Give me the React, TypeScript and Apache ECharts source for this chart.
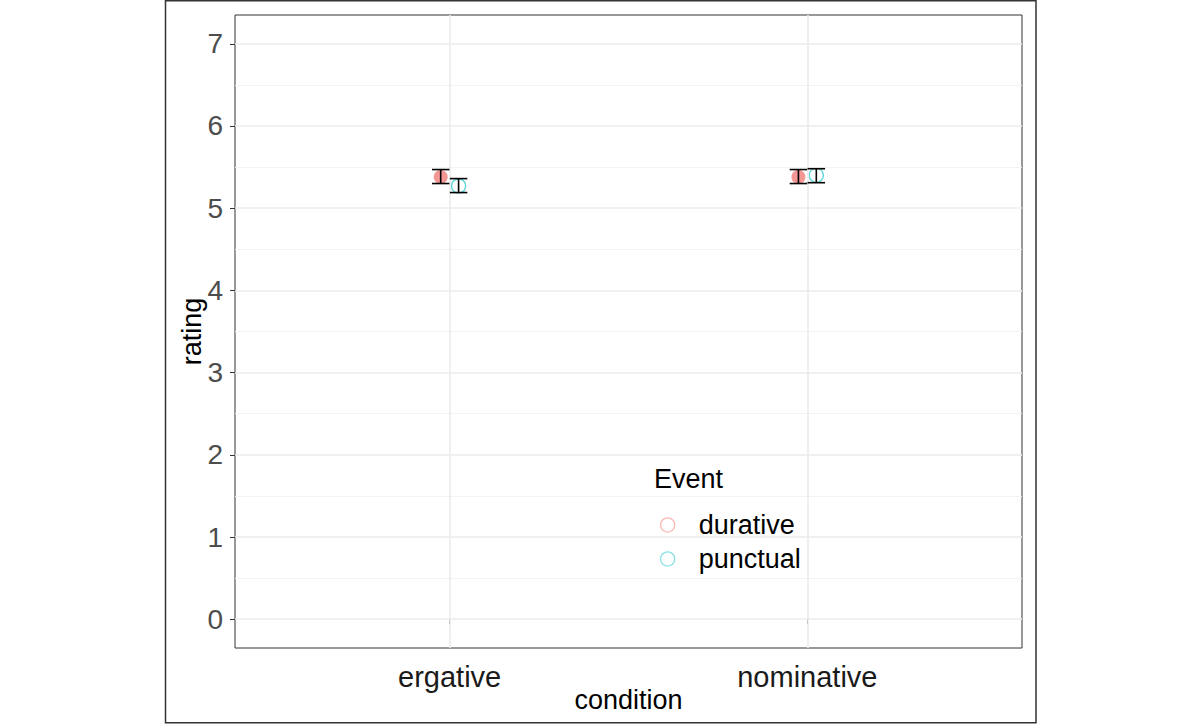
import React, { useEffect, useRef } from "react";
import * as echarts from "echarts";

const categories = ["ergative", "nominative"];
const events = ["durative", "punctual"];
const durativeMean = [5.38, 5.38];
const durativeLow = [5.3, 5.3];
const durativeHigh = [5.47, 5.47];
const punctualMean = [5.27, 5.4];
const punctualLow = [5.19, 5.31];
const punctualHigh = [5.36, 5.48];
const yTicks = [0, 1, 2, 3, 4, 5, 6, 7];
const yMinorTicks = [0.5, 1.5, 2.5, 3.5, 4.5, 5.5, 6.5];
const xTicks = [1, 2];
const dodge = 0.025;

const FONT = "'Liberation Sans', Arial, Helvetica, sans-serif";

export default function App() {
  const ref = useRef<HTMLDivElement>(null);
  useEffect(() => {
    if (!ref.current) return;
    const chart = echarts.init(ref.current, undefined, { renderer: "svg" });

    const durPts = categories.map((_, i) => [xTicks[i] - dodge, durativeMean[i]]);
    const punPts = categories.map((_, i) => [xTicks[i] + dodge, punctualMean[i]]);
    const durErr = categories.map((_, i) => [xTicks[i] - dodge, durativeLow[i], durativeHigh[i]]);
    const punErr = categories.map((_, i) => [xTicks[i] + dodge, punctualLow[i], punctualHigh[i]]);

    const errRender = (params: any, api: any) => {
      const x = api.value(0);
      const lo = api.coord([x, api.value(1)]);
      const hi = api.coord([x, api.value(2)]);
      const w = 8.75;
      const st = { stroke: "#000", lineWidth: 1.6 };
      return {
        type: "group",
        children: [
          { type: "line", shape: { x1: lo[0], y1: lo[1], x2: hi[0], y2: hi[1] }, style: st },
          { type: "line", shape: { x1: lo[0] - w, y1: lo[1], x2: lo[0] + w, y2: lo[1] }, style: st },
          { type: "line", shape: { x1: hi[0] - w, y1: hi[1], x2: hi[0] + w, y2: hi[1] }, style: st },
        ],
      };
    };

    const gridLines: any[] = [
      ...yMinorTicks.map((v) => ({ yAxis: v, lineStyle: { color: "#F2F2F2", width: 0.9, type: "solid" } })),
      ...yTicks.map((v) => ({ yAxis: v, lineStyle: { color: "#EBEBEB", width: 1.6, type: "solid" } })),
      ...xTicks.map((v) => ({ xAxis: v, lineStyle: { color: "#EBEBEB", width: 1.6, type: "solid" } })),
    ];

    chart.setOption({
      animation: false,
      backgroundColor: "#fff",
      textStyle: { fontFamily: FONT },
      grid: {
        left: 235,
        top: 15,
        width: 787,
        height: 633,
        show: true,
        borderColor: "#333",
        borderWidth: 1,
        backgroundColor: "transparent",
        outerBoundsMode: "none",
        containLabel: false,
      },
      xAxis: {
        type: "value",
        min: 0.4,
        max: 2.6,
        name: "condition",
        nameLocation: "middle",
        nameGap: 38,
        nameMoveOverlap: false,
        nameTextStyle: { fontSize: 27, color: "#000", fontFamily: FONT },
        splitLine: { show: false },
        axisLine: { show: false },
        axisTick: { show: true, customValues: xTicks, length: 5, lineStyle: { color: "#333", width: 1 } },
        axisLabel: {
          customValues: xTicks,
          fontSize: 29,
          color: "#1A1A1A",
          margin: 14,
          fontFamily: FONT,
          formatter: (v: number) => categories[Math.round(v) - 1] ?? "",
        },
      },
      yAxis: {
        type: "value",
        min: -0.35,
        max: 7.35,
        name: "rating",
        nameLocation: "middle",
        nameGap: 30,
        nameMoveOverlap: false,
        nameTextStyle: { fontSize: 27, color: "#000", fontFamily: FONT },
        splitLine: { show: false },
        axisLine: { show: false },
        axisTick: { show: true, customValues: yTicks, length: 5, lineStyle: { color: "#333", width: 1 } },
        axisLabel: {
          customValues: yTicks,
          fontSize: 28,
          color: "#4D4D4D",
          margin: 12,
          fontFamily: FONT,
        },
      },
      legend: {
        orient: "vertical",
        left: 660,
        top: 510,
        padding: 0,
        itemWidth: 52,
        itemHeight: 14,
        itemGap: 4,
        selectedMode: false,
        z: 6,
        textStyle: { fontSize: 27, color: "#000", fontFamily: FONT, lineHeight: 30 },
        data: [
          {
            name: events[0],
            icon: "circle",
            itemStyle: { color: "rgba(0,0,0,0)", borderColor: "rgba(248,118,109,0.65)", borderWidth: 1.3 },
          },
          {
            name: events[1],
            icon: "circle",
            itemStyle: { color: "rgba(0,0,0,0)", borderColor: "rgba(0,191,196,0.6)", borderWidth: 1.3 },
          },
        ],
      },
      graphic: [
        {
          type: "rect",
          z: 3,
          shape: { x: 637, y: 462, width: 228, height: 125 },
          style: { fill: "#fff" },
          silent: true,
        },
        {
          type: "text",
          z: 6,
          x: 654,
          y: 479,
          style: { text: "Event", font: `27px ${FONT}`, fill: "#000", verticalAlign: "middle", align: "left" },
          silent: true,
        },
        {
          type: "rect",
          z: 10,
          shape: { x: 165.5, y: 0.75, width: 870.5, height: 722 },
          style: { fill: "none", stroke: "#333", lineWidth: 1.5 },
          silent: true,
        },
      ],
      series: [
        {
          name: "grid",
          type: "scatter",
          data: [],
          z: 1,
          silent: true,
          markLine: {
            silent: true,
            symbol: ["none", "none"],
            label: { show: false },
            animation: false,
            data: gridLines,
          },
        },
        {
          name: events[0],
          type: "scatter",
          z: 4,
          symbol: "circle",
          symbolSize: 14,
          itemStyle: { color: "rgba(240,110,105,0.9)", borderWidth: 0 },
          data: durPts,
        },
        {
          name: events[1],
          type: "scatter",
          z: 4,
          symbol: "circle",
          symbolSize: 14,
          itemStyle: { color: "rgba(0,0,0,0)", borderColor: "rgba(0,191,196,0.8)", borderWidth: 1.4 },
          data: punPts,
        },
        {
          name: "durative-err",
          type: "custom",
          z: 5,
          renderItem: errRender,
          encode: { x: 0, y: [1, 2] },
          data: durErr,
        },
        {
          name: "punctual-err",
          type: "custom",
          z: 5,
          renderItem: errRender,
          encode: { x: 0, y: [1, 2] },
          data: punErr,
        },
      ],
    });
    return () => chart.dispose();
  }, []);
  return (
    <div
      ref={ref}
      style={{ position: "fixed", left: 0, top: 0, width: 1200, height: 726, background: "#fff" }}
    />
  );
}
